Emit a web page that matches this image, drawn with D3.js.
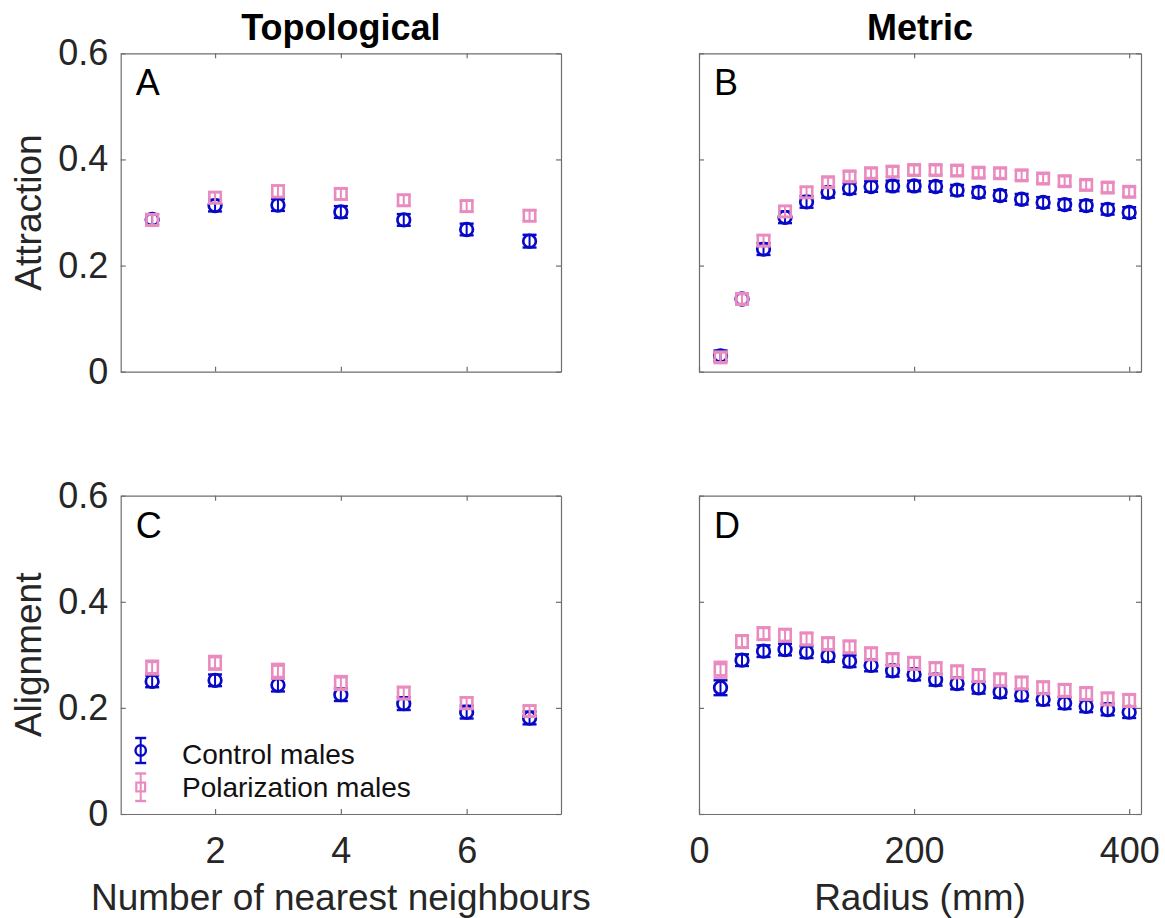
<!DOCTYPE html>
<html>
<head>
<meta charset="utf-8">
<script src="https://cdn.jsdelivr.net/npm/d3@7"></script>
<style>
  html, body { margin: 0; padding: 0; background: #fff; }
  svg { display: block; font-family: "Liberation Sans", Arial, Helvetica, sans-serif; }
  .axis path.domain { stroke: #6e6e6e; stroke-width: 1.2; }
  .axis line { stroke: #6e6e6e; stroke-width: 1.2; }
  .axis text { fill: #262626; font-size: 36px; font-family: "Liberation Sans", Arial, sans-serif; }
</style>
</head>
<body>
<svg id="fig" width="1165" height="918"></svg>
<script>
// ---- data ----
const neighbours = [1, 2, 3, 4, 5, 6, 7];
const radii = [20, 40, 60, 80, 100, 120, 140, 160, 180, 200,
               220, 240, 260, 280, 300, 320, 340, 360, 380, 400];

// Attraction, topological (number of nearest neighbours)
const topoAttrControl = [0.287, 0.313, 0.314, 0.301, 0.286, 0.268, 0.246];
const topoAttrControlErr = [0.010, 0.011, 0.011, 0.011, 0.011, 0.011, 0.012];
const topoAttrPolar = [0.286, 0.328, 0.340, 0.335, 0.323, 0.312, 0.294];
const topoAttrPolarErr = [0.010, 0.010, 0.011, 0.010, 0.010, 0.010, 0.010];

// Attraction, metric (radius)
const metricAttrControl = [0.030, 0.137, 0.231, 0.291, 0.320, 0.338, 0.345, 0.349, 0.350, 0.350,
                           0.349, 0.342, 0.338, 0.332, 0.325, 0.319, 0.315, 0.313, 0.306, 0.300];
const metricAttrControlErr = [0.010, 0.010, 0.011, 0.011, 0.011, 0.010, 0.010, 0.010, 0.010, 0.010,
                              0.010, 0.010, 0.010, 0.010, 0.010, 0.010, 0.010, 0.010, 0.010, 0.010];
const metricAttrPolar = [0.027, 0.137, 0.247, 0.302, 0.338, 0.357, 0.368, 0.374, 0.377, 0.380,
                         0.380, 0.379, 0.375, 0.374, 0.370, 0.364, 0.359, 0.352, 0.347, 0.339];
const metricAttrPolarErr = [0.009, 0.009, 0.010, 0.010, 0.010, 0.009, 0.009, 0.009, 0.009, 0.009,
                            0.009, 0.009, 0.009, 0.009, 0.009, 0.009, 0.009, 0.009, 0.009, 0.009];

// Alignment, topological
const topoAlignControl = [0.250, 0.252, 0.243, 0.225, 0.208, 0.192, 0.181];
const topoAlignControlErr = [0.011, 0.011, 0.012, 0.012, 0.012, 0.012, 0.012];
const topoAlignPolar = [0.276, 0.285, 0.269, 0.247, 0.228, 0.209, 0.194];
const topoAlignPolarErr = [0.013, 0.013, 0.014, 0.013, 0.012, 0.011, 0.010];

// Alignment, metric
const metricAlignControl = [0.238, 0.290, 0.307, 0.310, 0.305, 0.298, 0.288, 0.280, 0.270, 0.263,
                            0.253, 0.246, 0.238, 0.230, 0.224, 0.216, 0.209, 0.203, 0.197, 0.192];
const metricAlignControlErr = [0.014, 0.011, 0.011, 0.011, 0.011, 0.011, 0.011, 0.011, 0.011, 0.011,
                               0.011, 0.011, 0.011, 0.011, 0.011, 0.011, 0.011, 0.011, 0.011, 0.011];
const metricAlignPolar = [0.272, 0.325, 0.340, 0.337, 0.330, 0.321, 0.315, 0.302, 0.291, 0.284,
                          0.274, 0.268, 0.261, 0.253, 0.247, 0.238, 0.233, 0.227, 0.217, 0.214];
const metricAlignPolarErr = [0.015, 0.012, 0.012, 0.012, 0.012, 0.012, 0.012, 0.012, 0.012, 0.012,
                             0.012, 0.012, 0.012, 0.012, 0.012, 0.012, 0.012, 0.012, 0.012, 0.012];

const yTicks = [0, 0.2, 0.4, 0.6];
const topoTicks = [2, 4, 6];
const metricTicks = [0, 200, 400];
const seriesNames = ["Control males", "Polarization males"];
const columnTitles = ["Topological", "Metric"];
const rowLabels = ["Attraction", "Alignment"];
const xLabels = ["Number of nearest neighbours", "Radius (mm)"];
const panelLetters = ["A", "B", "C", "D"];

// ---- styling ----
const COLOR_CTRL = "#0808c8";
const COLOR_POL = "#ea8bbf";
const svg = d3.select("#fig");

const cols = [{ left: 120.7, right: 561 }, { left: 699, right: 1141 }];
const rows = [{ top: 53.3, bottom: 371.7 }, { top: 495.7, bottom: 814 }];
const xDomains = [[0.5, 7.5], [0, 411]];

const panels = [
  { row: 0, col: 0, xs: neighbours, ctrl: topoAttrControl, ctrlErr: topoAttrControlErr, pol: topoAttrPolar, polErr: topoAttrPolarErr },
  { row: 0, col: 1, xs: radii, ctrl: metricAttrControl, ctrlErr: metricAttrControlErr, pol: metricAttrPolar, polErr: metricAttrPolarErr },
  { row: 1, col: 0, xs: neighbours, ctrl: topoAlignControl, ctrlErr: topoAlignControlErr, pol: topoAlignPolar, polErr: topoAlignPolarErr },
  { row: 1, col: 1, xs: radii, ctrl: metricAlignControl, ctrlErr: metricAlignControlErr, pol: metricAlignPolar, polErr: metricAlignPolarErr }
];

const tickFmt = d => d === 0 ? "0" : (d < 1 ? d3.format(".1f")(d) : d3.format("d")(d));
const CAP = 7;

function drawCircle(g, cx, cy, r, color, w) {
  g.append("circle").attr("cx", cx).attr("cy", cy).attr("r", r)
    .attr("fill", "none").attr("stroke", color).attr("stroke-width", w);
}
function drawSquare(g, cx, cy, h, color, w) {
  g.append("rect").attr("x", cx - h).attr("y", cy - h).attr("width", 2 * h).attr("height", 2 * h)
    .attr("fill", "none").attr("stroke", color).attr("stroke-width", w);
}
function drawErrorBar(g, cx, y0, y1, cap, color) {
  g.append("line").attr("x1", cx).attr("x2", cx).attr("y1", y0).attr("y2", y1)
    .attr("stroke", color).attr("stroke-width", 2);
  [y0, y1].forEach(yy => g.append("line").attr("x1", cx - cap).attr("x2", cx + cap)
    .attr("y1", yy).attr("y2", yy).attr("stroke", color).attr("stroke-width", 2.4));
}

panels.forEach((p, i) => {
  const c = cols[p.col], r = rows[p.row];
  const x = d3.scaleLinear().domain(xDomains[p.col]).range([c.left, c.right]);
  const y = d3.scaleLinear().domain([0, 0.6]).range([r.bottom, r.top]);
  const xt = p.col === 0 ? topoTicks : metricTicks;
  const g = svg.append("g");

  // axes: ticks point inward on all four sides of the box
  g.append("g").attr("class", "axis").attr("transform", `translate(0,${r.bottom})`)
    .call(d3.axisBottom(x).tickValues(xt).tickSize(-5).tickSizeOuter(0).tickPadding(23.5)
      .tickFormat(p.row === 1 ? tickFmt : () => ""));
  g.append("g").attr("class", "axis").attr("transform", `translate(0,${r.top})`)
    .call(d3.axisTop(x).tickValues(xt).tickSize(-5).tickSizeOuter(0).tickFormat(() => ""));
  g.append("g").attr("class", "axis").attr("transform", `translate(${c.left},0)`)
    .call(d3.axisLeft(y).tickValues(yTicks).tickSize(-5).tickSizeOuter(0).tickPadding(12.5)
      .tickFormat(p.col === 0 ? tickFmt : () => ""));
  g.append("g").attr("class", "axis").attr("transform", `translate(${c.right},0)`)
    .call(d3.axisRight(y).tickValues(yTicks).tickSize(-5).tickSizeOuter(0).tickFormat(() => ""));

  // panel letter
  g.append("text").attr("x", c.left + 15).attr("y", r.top + 42)
    .attr("font-size", 36).attr("fill", "#000").text(panelLetters[i]);

  // control males: circles with error bars
  const mk = g.append("g");
  p.xs.forEach((xv, k) => {
    const cx = x(xv), cy = y(p.ctrl[k]);
    drawErrorBar(mk, cx, y(p.ctrl[k] + p.ctrlErr[k]), y(p.ctrl[k] - p.ctrlErr[k]), CAP, COLOR_CTRL);
    drawCircle(mk, cx, cy, 6.3, COLOR_CTRL, 2.7);
  });
  // polarization males: squares with error bars
  p.xs.forEach((xv, k) => {
    const cx = x(xv), cy = y(p.pol[k]);
    drawErrorBar(mk, cx, y(p.pol[k] + p.polErr[k]), y(p.pol[k] - p.polErr[k]), CAP, COLOR_POL);
    drawSquare(mk, cx, cy, 5.7, COLOR_POL, 2.6);
  });

  // column title
  if (p.row === 0) {
    svg.append("text").attr("x", (c.left + c.right) / 2).attr("y", 40)
      .attr("text-anchor", "middle").attr("font-size", 36).attr("font-weight", "bold")
      .attr("fill", "#000").text(columnTitles[p.col]);
  }
  // x label
  if (p.row === 1) {
    svg.append("text").attr("x", (c.left + c.right) / 2).attr("y", 910)
      .attr("text-anchor", "middle").attr("font-size", 37).attr("fill", "#262626")
      .text(xLabels[p.col]);
  }
  // y label
  if (p.col === 0) {
    const cy = (r.top + r.bottom) / 2;
    svg.append("text").attr("transform", `translate(41,${cy}) rotate(-90)`)
      .attr("text-anchor", "middle").attr("font-size", 37).attr("fill", "#262626")
      .text(rowLabels[p.row]);
  }

  // legend in panel C
  if (p.row === 1 && p.col === 0) {
    const lg = g.append("g");
    const lx = 140.7;
    drawErrorBar(lg, lx, 738, 763, 5.5, COLOR_CTRL);
    drawCircle(lg, lx, 750.5, 5.2, COLOR_CTRL, 2.4);
    drawErrorBar(lg, lx, 773.5, 801, 5.5, COLOR_POL);
    drawSquare(lg, lx, 787, 4.4, COLOR_POL, 2.2);
    lg.append("text").attr("x", 182).attr("y", 764).attr("font-size", 28).attr("fill", "#111").text(seriesNames[0]);
    lg.append("text").attr("x", 182).attr("y", 797).attr("font-size", 28).attr("fill", "#111").text(seriesNames[1]);
  }
});
</script>
</body>
</html>
